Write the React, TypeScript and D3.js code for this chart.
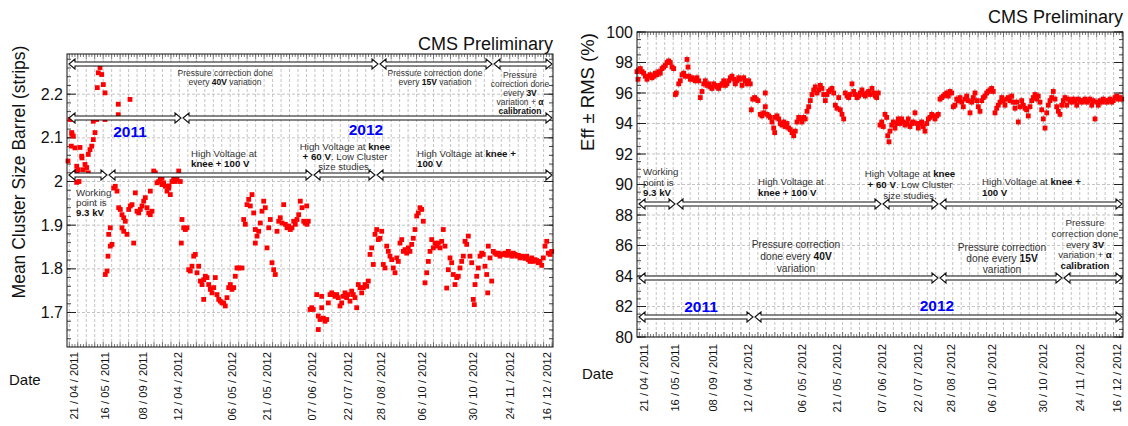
import React from "react";
import * as d3 from "d3";

// ---------- data ----------
const dateLabels = ["21 / 04 / 2011", "16 / 05 / 2011", "08 / 09 / 2011", "12 / 04 / 2012", "06 / 05 / 2012", "21 / 05 / 2012", "07 / 06 / 2012", "22 / 07 / 2012", "28 / 08 / 2012", "06 / 10 / 2012", "30 / 10 / 2012", "24 / 11 / 2012", "16 / 12 / 2012"];
const dateRuns = [7, 38, 76, 111, 165, 200, 245, 281, 314, 355, 406, 443, 480];

const meanTicks = [1.7, 1.8, 1.9, 2.0, 2.1, 2.2];
const effTicks = [80, 82, 84, 86, 88, 90, 92, 94, 96, 98, 100];

// Mean cluster size barrel: run index, value
const clsRun = [
  1, 3, 4.7, 6.3, 8, 13, 9.7, 11.3, 16.3, 18, 19.7, 21.3, 9.7, 12, 14.7, 21.3, 23, 24.7, 26.3, 28, 26.3, 29.7, 31.3, 33, 34.7, 30.3, 36.3, 38, 38, 51.3, 51.3, 63, 4.3, 10, 15, 5,
  38.3, 40, 41, 43.3, 45, 41.7, 43.3, 46.7, 48.3, 50, 51.7, 53.3, 55, 56.7, 58.3, 55, 56.7, 60, 61.7, 65, 63.3, 66.7, 68.3, 70, 71.7, 73.3, 75, 76.7, 78.3, 80, 81.7, 83.3, 85, 83.3, 86.7, 88.3, 90, 91.7, 93.3, 95, 96.7, 98.3, 100, 101.7, 103.3, 105, 106.7, 108.3, 110, 111.7, 113.3, 95, 102,
  115, 116.7, 118.3, 120, 114.3, 121.7, 123.3, 125, 126.7, 128.3, 130, 131.7, 133.3, 135, 136.7, 138.3, 136.7, 140, 141.7, 143.3, 145, 146.7, 148.3, 150, 151.7, 153.3, 155, 156.7, 158.3, 160, 161.7, 163.3, 165, 166.7, 168.3, 170, 171.7, 175,
  176.7, 178.3, 180, 181.7, 183.3, 185, 186.7, 188.3, 190, 191.7, 188.3, 193.3, 195, 196.7, 198.3, 200, 201.7, 203.3, 205, 206.7, 208.3, 210, 211.7, 213.3, 215, 216.7, 218.3, 220, 221.7, 223.3, 225, 226.7, 228.3, 230, 231.7, 233.3, 235, 236.7, 238.3, 240, 241.3, 239.7,
  243, 244.7, 246.3, 249.7, 251.3, 253, 251.3, 254.7, 256.3, 258, 259.7, 261.3, 254.7, 263, 264.7, 266.3, 268, 269.7, 271.3, 273, 274.7, 276.3, 278, 279.7, 281.3, 283, 284.7, 286.3, 288, 289.7, 291.3, 293, 294.7, 296.3, 298, 299.7, 301.3,
  303, 304.7, 306.3, 308, 309.7, 311.3, 313, 314.7, 316.3, 318, 319.7, 321.3, 323, 324.7, 326.3, 328, 329.7, 331.3, 333, 334.7, 336.3, 338, 339.7, 341.3, 343, 344.7, 346.3, 348, 349.7, 351.3, 353, 354.7, 356.3,
  358, 359.7, 361.3, 363, 364.7, 366.3, 368, 369.7, 371.3, 373, 374.7, 376.3, 378, 379.7, 381.3, 383, 384.7, 386.3, 388, 389.7, 391.3, 393, 394.7, 396.3, 398, 399.7, 401.3, 403, 404.7, 406.3, 407.3, 408, 409.7, 411.3, 413, 414.7, 416.3, 418, 419.7, 420.7, 421.3, 423, 424.7,
  426.3, 428, 429.7, 431.3, 433, 434.7, 436.3, 438, 439.7, 441.3, 443, 444.7, 446.3, 448, 449.7, 451.3, 453, 454.7, 456.3, 458, 459.7, 461.3, 463, 464.7, 466.3, 468, 469.7, 471.3, 473, 474.7, 476.3, 478, 479.7, 481.3, 483, 484.7,
];
const clsMean = [
  2.047, 2.142, 2.112, 2.104, 2.077, 2.078, 2.035, 2.027, 2.027, 2.039, 2.032, 2.02, 1.998, 2.0, 2.058, 2.062, 2.073, 2.081, 2.096, 2.112, 2.138, 2.142, 2.249, 2.261, 2.245, 2.215, 2.222, 2.203, 2.142, 2.177, 2.153, 2.188, 2.081, 2.024, 2.054, 2.108,
  1.787, 1.795, 1.829, 1.852, 1.856, 1.879, 1.894, 1.985, 1.989, 1.978, 1.94, 1.936, 1.924, 1.917, 1.909, 1.894, 1.886, 1.879, 1.936, 1.947, 1.944, 1.859, 1.974, 1.932, 1.928, 1.936, 1.944, 1.955, 1.963, 1.94, 1.928, 1.924, 1.932, 1.978, 2.024, 2.02, 1.997, 2.0, 2.005, 2.008, 1.997, 1.989, 1.978, 1.985, 1.97, 2.0, 2.005, 2.0, 2.005, 2.024, 2.0, 1.993, 1.99,
  1.913, 1.894, 1.89, 1.894, 1.859, 1.798, 1.795, 1.806, 1.829, 1.833, 1.791, 1.806, 1.772, 1.764, 1.775, 1.783, 1.73, 1.78, 1.764, 1.753, 1.745, 1.757, 1.78, 1.741, 1.73, 1.726, 1.722, 1.722, 1.715, 1.734, 1.757, 1.764, 1.753, 1.757, 1.783, 1.802, 1.802, 1.802,
  1.913, 1.902, 1.947, 1.959, 1.944, 1.97, 1.928, 1.89, 1.875, 1.886, 1.859, 1.905, 1.932, 1.955, 1.94, 1.848, 1.894, 1.913, 1.814, 1.798, 1.787, 1.886, 1.909, 1.917, 1.905, 1.947, 1.902, 1.894, 1.898, 1.89, 1.894, 1.909, 1.902, 1.913, 1.924, 1.955, 1.94, 1.909, 1.905, 1.902, 1.909, 1.944,
  1.707, 1.711, 1.707, 1.741, 1.692, 1.684, 1.661, 1.711, 1.687, 1.68, 1.684, 1.722, 1.737, 1.741, 1.745, 1.741, 1.737, 1.741, 1.734, 1.715, 1.722, 1.737, 1.745, 1.734, 1.741, 1.726, 1.749, 1.741, 1.734, 1.711, 1.764, 1.757, 1.745, 1.757, 1.764, 1.76, 1.772,
  1.833, 1.848, 1.81, 1.879, 1.89, 1.867, 1.87, 1.886, 1.81, 1.802, 1.852, 1.84, 1.829, 1.821, 1.802, 1.791, 1.825, 1.817, 1.859, 1.867, 1.84, 1.844, 1.836, 1.848, 1.84, 1.856, 1.87, 1.89, 1.921, 1.928, 1.94, 1.936, 1.909,
  1.768, 1.791, 1.817, 1.84, 1.867, 1.848, 1.859, 1.852, 1.859, 1.848, 1.863, 1.89, 1.852, 1.756, 1.798, 1.825, 1.814, 1.787, 1.764, 1.78, 1.783, 1.802, 1.817, 1.829, 1.863, 1.856, 1.875, 1.829, 1.814, 1.73, 1.718, 1.764, 1.783, 1.802, 1.829, 1.836, 1.833, 1.806, 1.787, 1.745, 1.852, 1.825, 1.772,
  1.84, 1.836, 1.833, 1.836, 1.829, 1.834, 1.833, 1.836, 1.831, 1.84, 1.833, 1.829, 1.836, 1.833, 1.829, 1.831, 1.825, 1.829, 1.827, 1.824, 1.829, 1.821, 1.817, 1.825, 1.817, 1.821, 1.819, 1.814, 1.817, 1.808, 1.825, 1.852, 1.863, 1.836, 1.833, 1.84,
];

// Efficiency: run index, value (%)
const effRun = [
  1, 0, 1.7, 3.3, 5, 6.7, 8.3, 10, 11.7, 13.3, 15, 16.7, 18.3, 20, 21.7, 23.3, 25, 26.7, 28.3, 30, 31.7, 33.3, 35, 36.7,
  38.3, 39.3, 41.7, 43.3, 45, 46.7, 48.3, 50, 51, 51.7, 53.3, 55, 56.7, 58.3, 60, 61.7, 63.3, 65, 66.7, 68.3, 70, 71.7, 73.3, 75, 76.7, 78.3, 80, 81.7, 83.3, 85, 86.7, 88.3, 90, 91.7, 93.3, 95, 96.7, 98.3, 100, 101.7, 103.3, 105, 106.7, 108.3, 110, 111.7, 113.3,
  114.3, 115.7, 117.7, 119, 121, 123.3, 125, 126.7, 128.3, 128.3, 130, 131.7, 133.3, 135, 136.7, 137.7, 138.3, 140, 141.7, 143.3, 145, 146.7, 148.3, 150, 151.7, 153.3, 155, 156.7, 158.3, 160, 161.7, 163.3, 165, 166.7, 168.3, 170, 171.7, 173.3, 175,
  176.7, 178.3, 180, 181.7, 183.3, 185, 186.7, 188.3, 190, 191.7, 193.3, 195, 196.7, 198.3, 200, 201.7, 203.3, 205, 206.7, 208.3, 210, 211.7, 213.3, 215, 216.7, 218.3, 220, 221.7, 223.3, 225, 226.7, 228.3, 230, 231.7, 233.3, 235, 236.7, 238.3, 239.7, 241.3,
  243, 244.7, 246.3, 248, 249.7, 250.7, 252, 253, 254.7, 256.3, 258, 259.7, 261.3, 263, 264.7, 266.3, 268, 269.7, 271.3, 273, 274.7, 276.3, 278, 279.7, 281.3, 283, 284.7, 286.3, 288, 289.7, 291.3, 293, 294.7, 296.3, 298, 299.7, 301.3,
  303, 304.7, 306.3, 308, 309.7, 311.3, 313, 314.7, 316.3, 318, 319.7, 321.3, 323, 324.7, 326.3, 328, 329.7, 331.3, 333, 334.7, 336.3, 338, 339.7, 341.3, 343, 344.7, 346.3, 348, 349.7, 351.3, 353, 354.7, 356.3,
  358, 359.7, 361.3, 363, 364.7, 366.3, 368, 369.7, 371.3, 373, 374.7, 376.3, 378, 379.7, 381.3, 383, 384.7, 386.3, 388, 389.7, 391.3, 393, 394.7, 396.3, 398, 399.7, 401.3, 403, 404.7, 406.3, 408, 409.7, 411.3, 413, 414.7, 416.3, 418, 419.7, 421.3, 423, 424.7,
  426.3, 428, 429.7, 431.3, 433, 434.7, 436.3, 438, 439.7, 441.3, 443, 444.7, 446.3, 448, 449.7, 451.3, 453, 454.7, 456.3, 458, 459.7, 461.3, 463, 464.7, 466.3, 468, 469.7, 471.3, 473, 474.7, 476.3, 478, 479.7, 481.3, 483, 484.7,
];
const effValue = [
  96.9, 97.4, 97.5, 97.6, 97.4, 97.3, 97.1, 96.9, 97.1, 97.2, 97.0, 97.1, 97.3, 97.2, 97.4, 97.3, 97.6, 97.7, 97.8, 98.0, 98.1, 98.0, 97.7, 97.6,
  95.9, 96.0, 96.6, 96.8, 97.2, 97.3, 97.1, 98.2, 97.7, 97.1, 96.9, 97.0, 96.9, 96.8, 97.0, 96.8, 95.7, 96.1, 96.6, 96.8, 96.5, 96.6, 96.4, 96.3, 96.6, 96.5, 96.4, 96.3, 96.5, 96.6, 96.8, 96.5, 96.6, 96.8, 97.0, 97.1, 96.9, 96.6, 96.8, 97.0, 96.9, 96.5, 97.0, 96.8, 96.6, 96.8, 96.6,
  94.9, 95.6, 95.7, 95.6, 95.5, 94.6, 94.5, 94.7, 96.0, 95.1, 94.6, 94.5, 94.4, 94.1, 93.7, 93.4, 94.4, 94.5, 94.3, 94.0, 93.9, 94.1, 93.8, 94.0, 93.7, 93.6, 93.4, 93.2, 93.5, 94.1, 94.4, 94.3, 94.1, 94.4, 94.3, 94.8, 95.1, 95.5, 95.9,
  96.2, 96.4, 96.0, 96.2, 96.5, 96.3, 95.9, 95.5, 95.9, 96.1, 96.2, 96.3, 96.0, 95.2, 95.0, 95.7, 94.9, 94.6, 94.3, 96.0, 95.8, 95.7, 95.9, 96.6, 96.1, 95.9, 95.7, 95.8, 96.0, 96.2, 95.9, 95.8, 96.0, 96.1, 95.9, 96.3, 96.0, 95.8, 95.7, 96.0,
  93.9, 94.1, 93.8, 94.6, 94.4, 93.2, 92.8, 93.5, 93.9, 94.1, 93.7, 94.0, 94.3, 94.0, 94.3, 94.1, 93.9, 94.0, 94.3, 93.8, 94.0, 94.1, 94.7, 94.0, 93.7, 94.0, 94.1, 93.8, 93.5, 94.0, 94.3, 94.4, 94.6, 94.5, 94.3, 94.5, 94.6,
  95.6, 95.7, 95.8, 95.9, 96.0, 95.8, 96.1, 96.0, 95.1, 95.2, 95.6, 95.5, 95.7, 95.4, 95.1, 95.6, 95.8, 95.5, 94.7, 95.4, 95.7, 96.0, 95.5, 95.1, 94.8, 95.5, 95.7, 95.8, 96.0, 96.1, 96.2, 96.3, 96.1,
  94.7, 95.0, 95.2, 95.4, 95.7, 95.5, 95.2, 95.6, 95.7, 95.5, 95.8, 95.4, 95.0, 95.4, 94.1, 95.1, 95.5, 95.2, 95.0, 94.9, 94.5, 95.1, 95.5, 95.7, 95.9, 95.6, 95.8, 95.4, 94.9, 94.3, 93.7, 94.7, 95.2, 95.5, 95.7, 96.1, 95.6, 95.1, 94.8, 94.6, 95.2,
  95.5, 95.7, 95.2, 95.6, 95.5, 95.4, 95.6, 95.5, 95.2, 95.6, 95.5, 95.4, 95.5, 95.6, 95.4, 95.5, 95.6, 95.2, 95.5, 94.3, 95.4, 95.2, 95.5, 95.4, 95.6, 95.5, 95.4, 95.5, 95.6, 95.4, 95.5, 95.7, 95.8, 95.6, 95.7, 95.6,
];

// ---------- annotation texts ----------
type Seg = { t: string; b?: boolean };
const txtPressure40L: Seg[][] = [[{ t: "Pressure correction done" }], [{ t: "every " }, { t: "40V", b: true }, { t: " variation" }]];
const txtPressure15L: Seg[][] = [[{ t: "Pressure correction done" }], [{ t: "every " }, { t: "15V", b: true }, { t: " variation" }]];
const txtPressure40R: Seg[][] = [[{ t: "Pressure correction" }], [{ t: "done every " }, { t: "40V", b: true }], [{ t: "variation" }]];
const txtPressure15R: Seg[][] = [[{ t: "Pressure correction" }], [{ t: "done every " }, { t: "15V", b: true }], [{ t: "variation" }]];
const txtPressure3: Seg[][] = [[{ t: "Pressure" }], [{ t: "correction done" }], [{ t: "every " }, { t: "3V", b: true }], [{ t: "variation + " }, { t: "α", b: true }], [{ t: "calibration", b: true }]];
const txtWorking: Seg[][] = [[{ t: "Working" }], [{ t: "point is" }], [{ t: "9.3 kV", b: true }]];
const txtHV100a: Seg[][] = [[{ t: "High Voltage at" }], [{ t: "knee + 100 V", b: true }]];
const txtHV60: Seg[][] = [[{ t: "High Voltage at " }, { t: "knee", b: true }], [{ t: "+ 60 V", b: true }, { t: ". Low Cluster" }], [{ t: "size studies." }]];
const txtHV100b: Seg[][] = [[{ t: "High Voltage at " }, { t: "knee +", b: true }], [{ t: "100 V", b: true }]];

const NRUN = 486;

type Note = { lines: Seg[][]; x: number; y: number; size: number; lh: number; anchor: string };
type Arrow = { y: number; from: number; to: number; breaks: number[] };
type Year = { t: string; x: number; y: number };

type PanelCfg = {
  left: number; right: number; top: number; bottom: number;
  yDomain: [number, number]; yTicks: number[]; yFmt: (v: number) => string; minorStep: number;
  runs: number[]; vals: number[]; errs: boolean;
  title: string; titleX: number; titleY: number; titleSize: number;
  cmsY: number; dateX: number; dateY: number; labelTop: number;
  notes: Note[]; arrows: Arrow[]; years: Year[];
};

function ArrowShape({ x0, x1, y }: { x0: number; x1: number; y: number }) {
  const h = 5, s = 2, l = 6;
  const d = `M${x0},${y} L${x0 + l},${y - h} L${x0 + l},${y - s} L${x1 - l},${y - s} L${x1 - l},${y - h} L${x1},${y} L${x1 - l},${y + h} L${x1 - l},${y + s} L${x0 + l},${y + s} L${x0 + l},${y + h} Z`;
  return <path d={d} fill="white" stroke="#111" strokeWidth={1.1} strokeLinejoin="miter" />;
}

function NoteText({ n }: { n: Note }) {
  return (
    <text fontFamily="'Liberation Sans', Arial, sans-serif" fontSize={n.size} fill="#333" textAnchor={n.anchor as any}>
      {n.lines.map((line, i) => (
        <tspan key={i} x={n.x} y={n.y + i * n.lh + n.size * 0.35}>
          {line.map((s, j) => (
            <tspan key={j} fontWeight={s.b ? "bold" : "normal"} fill={s.b ? "#111" : "#333"}>{s.t}</tspan>
          ))}
        </tspan>
      ))}
    </text>
  );
}

function Panel({ c }: { c: PanelCfg }) {
  const x = d3.scaleLinear().domain([0, NRUN]).range([c.left, c.right]);
  const y = d3.scaleLinear().domain(c.yDomain).range([c.bottom, c.top]);
  const gridX = d3.range(2.3, NRUN, 8.47);
  const minorY = d3.range(Math.ceil(c.yDomain[0] / c.minorStep) * c.minorStep, c.yDomain[1] + 1e-9, c.minorStep);
  const minorX = d3.range(2.3, NRUN, 8.47 / 3);
  const font = "'Liberation Sans', Arial, sans-serif";
  return (
    <g>
      <rect x={c.left} y={c.top} width={c.right - c.left} height={c.bottom - c.top} fill="white" />
      {gridX.map((g, i) => (
        <line key={"gx" + i} x1={x(g)} x2={x(g)} y1={c.top} y2={c.bottom} stroke="#bdbdbd" strokeDasharray="3,2" strokeWidth={0.9} />
      ))}
      {c.yTicks.map((t, i) => (
        <line key={"gy" + i} x1={c.left} x2={c.right} y1={y(t)} y2={y(t)} stroke="#bdbdbd" strokeDasharray="3,2" strokeWidth={0.9} />
      ))}
      {minorY.map((t, i) => (
        <g key={"my" + i}>
          <line x1={c.left} x2={c.left + 4} y1={y(t)} y2={y(t)} stroke="#444" />
          <line x1={c.right} x2={c.right - 4} y1={y(t)} y2={y(t)} stroke="#444" />
        </g>
      ))}
      {c.yTicks.map((t, i) => (
        <g key={"My" + i}>
          <line x1={c.left} x2={c.left + 9} y1={y(t)} y2={y(t)} stroke="#222" />
          <line x1={c.right} x2={c.right - 9} y1={y(t)} y2={y(t)} stroke="#222" />
          <text x={c.left - 4} y={y(t)} dy="0.35em" textAnchor="end" fontFamily={font} fontSize={16} fill="#111">{c.yFmt(t)}</text>
        </g>
      ))}
      {minorX.map((t, i) => (
        <g key={"mx" + i}>
          <line x1={x(t)} x2={x(t)} y1={c.bottom} y2={c.bottom - (i % 3 === 0 ? 5 : 3)} stroke="#555" strokeWidth={0.8} />
          <line x1={x(t)} x2={x(t)} y1={c.top} y2={c.top + (i % 3 === 0 ? 5 : 3)} stroke="#555" strokeWidth={0.8} />
        </g>
      ))}
      {c.errs && c.runs.map((r, i) => (
        <line key={"e" + i} x1={x(r)} x2={x(r)} y1={y(c.vals[i] - 0.25)} y2={y(c.vals[i] + 0.25)} stroke="#666" strokeWidth={0.7} />
      ))}
      {c.runs.map((r, i) => (
        <rect key={"p" + i} x={x(r) - 2.4} y={y(c.vals[i]) - 2.4} width={4.8} height={4.8} fill="#ff0000" />
      ))}
      {c.arrows.map((a, i) => {
        const pts = [a.from, ...a.breaks, a.to];
        return (
          <g key={"a" + i}>
            {pts.slice(0, -1).map((p, j) => (
              <ArrowShape key={j} x0={x(p) + (j === 0 ? 0 : 1)} x1={x(pts[j + 1]) - (j === pts.length - 2 ? 0 : 1)} y={y(a.y)} />
            ))}
          </g>
        );
      })}
      {c.notes.map((n, i) => <NoteText key={"n" + i} n={{ ...n, x: x(n.x), y: y(n.y) }} />)}
      {c.years.map((yr, i) => (
        <text key={"y" + i} x={x(yr.x)} y={y(yr.y)} dy="0.35em" textAnchor="middle" fontFamily={font} fontWeight="bold" fontSize={15.5} fill="#0000ff">{yr.t}</text>
      ))}
      <rect x={c.left} y={c.top} width={c.right - c.left} height={c.bottom - c.top} fill="none" stroke="#111" strokeWidth={1} />
      {dateRuns.map((r, i) => (
        <text key={"xl" + i} transform={`translate(${x(r)},${c.labelTop}) rotate(-90)`} dy="0.35em" textAnchor="end" fontFamily={font} fontSize={11.2} fill="#111">{dateLabels[i]}</text>
      ))}
      <text x={c.dateX} y={c.dateY} dy="0.35em" fontFamily={font} fontSize={15} fill="#111">Date</text>
      <text transform={`translate(${c.titleX},${c.titleY}) rotate(-90)`} dy="0.35em" textAnchor="middle" fontFamily={font} fontSize={c.titleSize} fill="#111">{c.title}</text>
      <text x={c.right} y={c.cmsY} dy="0.35em" textAnchor="end" fontFamily={font} fontSize={18} fill="#111">CMS Preliminary</text>
    </g>
  );
}

const leftTop = 54, leftBottom = 347;
const lyDom: [number, number] = [1.621, 2.292];
const ly = (py: number) => lyDom[1] - ((py - leftTop) / (leftBottom - leftTop)) * (lyDom[1] - lyDom[0]);
const rTop = 32, rBottom = 337;
const ryDom: [number, number] = [80, 100];
const ry = (py: number) => 100 - ((py - rTop) / (rBottom - rTop)) * 20;

const leftCfg: PanelCfg = {
  left: 67, right: 553, top: leftTop, bottom: leftBottom,
  yDomain: lyDom, yTicks: meanTicks, yFmt: (v) => (Math.abs(v - 2) < 1e-9 ? "2" : v.toFixed(1)), minorStep: 0.02,
  runs: clsRun, vals: clsMean, errs: false,
  title: "Mean Cluster Size Barrel (strips)", titleX: 19, titleY: 172, titleSize: 17.5,
  cmsY: 44, dateX: 9, dateY: 380, labelTop: 352,
  notes: [
    { lines: txtPressure40L, x: 158, y: ly(73), size: 8.5, lh: 9, anchor: "middle" },
    { lines: txtPressure15L, x: 368, y: ly(73), size: 8.5, lh: 9, anchor: "middle" },
    { lines: txtPressure3, x: 453, y: ly(75), size: 8.5, lh: 9, anchor: "middle" },
    { lines: txtHV100a, x: 124, y: ly(154), size: 9.7, lh: 10, anchor: "start" },
    { lines: txtHV60, x: 278, y: ly(147), size: 9.7, lh: 10, anchor: "middle" },
    { lines: txtHV100b, x: 350, y: ly(154), size: 9.7, lh: 10, anchor: "start" },
    { lines: txtWorking, x: 9, y: ly(193), size: 9.7, lh: 10, anchor: "start" },
  ],
  arrows: [
    { y: ly(64), from: 2, to: 485, breaks: [312, 426] },
    { y: ly(118), from: 2, to: 485, breaks: [115] },
    { y: ly(175), from: 2, to: 485, breaks: [41, 246, 309] },
  ],
  years: [
    { t: "2011", x: 63, y: ly(132) },
    { t: "2012", x: 299, y: ly(130) },
  ],
};

const rightCfg: PanelCfg = {
  left: 637, right: 1123, top: rTop, bottom: rBottom,
  yDomain: ryDom, yTicks: effTicks, yFmt: (v) => String(v), minorStep: 0.5,
  runs: effRun, vals: effValue, errs: true,
  title: "Eff ± RMS (%)", titleX: 588, titleY: 92, titleSize: 18.5,
  cmsY: 17, dateX: 582, dateY: 374, labelTop: 344,
  notes: [
    { lines: txtWorking, x: 6, y: ry(172), size: 9.7, lh: 10.5, anchor: "start" },
    { lines: txtHV100a, x: 121, y: ry(182), size: 9.7, lh: 10.5, anchor: "start" },
    { lines: txtHV60, x: 273, y: ry(174), size: 9.7, lh: 11, anchor: "middle" },
    { lines: txtHV100b, x: 345, y: ry(182), size: 9.7, lh: 10.5, anchor: "start" },
    { lines: txtPressure40R, x: 159, y: ry(244), size: 10.2, lh: 12, anchor: "middle" },
    { lines: txtPressure15R, x: 365, y: ry(247), size: 10.2, lh: 11, anchor: "middle" },
    { lines: txtPressure3, x: 448, y: ry(223), size: 9.7, lh: 10.7, anchor: "middle" },
  ],
  arrows: [
    { y: ry(204), from: 2, to: 485, breaks: [39, 245, 302] },
    { y: ry(278), from: 2, to: 485, breaks: [302, 426] },
    { y: ry(317), from: 2, to: 485, breaks: [117] },
  ],
  years: [
    { t: "2011", x: 64, y: ry(307) },
    { t: "2012", x: 300, y: ry(306) },
  ],
};

export default function App() {
  return (
    <svg width={1128} height={426} viewBox="0 0 1128 426" style={{ position: "absolute", left: 0, top: 0, background: "white" }}>
      <rect x={0} y={0} width={1128} height={426} fill="white" />
      <Panel c={leftCfg} />
      <Panel c={rightCfg} />
    </svg>
  );
}
